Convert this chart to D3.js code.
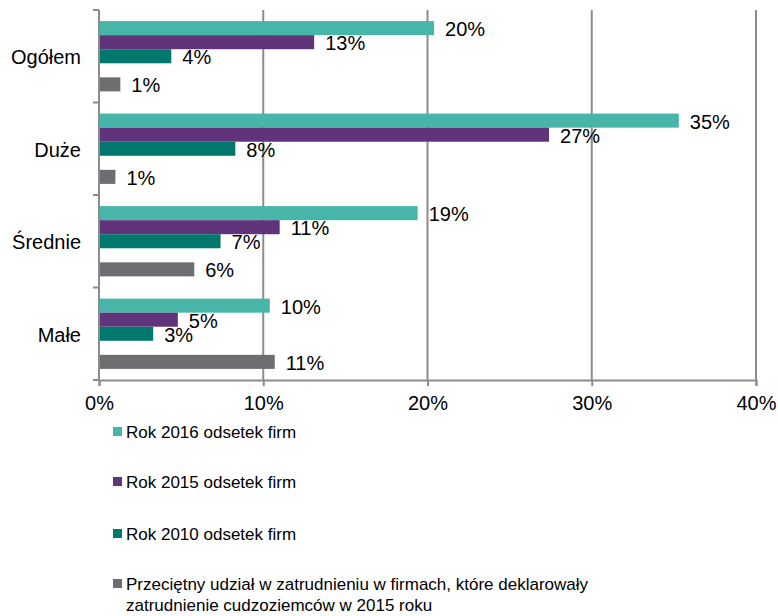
<!DOCTYPE html>
<html>
<head>
<meta charset="utf-8">
<script src="https://cdn.jsdelivr.net/npm/d3@7/dist/d3.min.js"></script>
<style>
  body { margin: 0; background: #fff; }
  svg text { font-family: "Liberation Sans", Arial, sans-serif; fill: #000; }
</style>
</head>
<body>
<svg id="chart" width="778" height="616"></svg>
<script>
// categories and series
const categories = ["Ogółem", "Duże", "Średnie", "Małe"];
const seriesNames = [
  "Rok 2016 odsetek firm",
  "Rok 2015 odsetek firm",
  "Rok 2010 odsetek firm",
  "Przeciętny udział w zatrudnieniu w firmach, które deklarowały zatrudnienie cudzoziemców w 2015 roku"
];
const rok2016 = [0.204, 0.353, 0.194, 0.104];
const rok2015 = [0.131, 0.274, 0.110, 0.048];
const rok2010 = [0.044, 0.083, 0.074, 0.033];
const udzial = [0.013, 0.010, 0.058, 0.107];
const xTicks = [0, 0.1, 0.2, 0.3, 0.4];
const colors = ["#47b5a8", "#60337b", "#00786e", "#6e6d72"];

const series = [rok2016, rok2015, rok2010, udzial];
// gray series sits in the 5th slot, one empty slot between
const slots = ["s0", "s1", "s2", "gap", "s3"];

const svg = d3.select("#chart");

let x = d3.scaleLinear().domain([0, 0.4]).range([99, 756]);
let y = d3.scaleBand().domain(categories).range([10, 380])
  .paddingInner(0.24).paddingOuter(0.12);
let ySlot = d3.scaleBand().domain(slots).range([0, y.bandwidth()]);

const pct = d3.format(".0%");

// gridlines
svg.append("g")
  .selectAll("line")
  .data(xTicks.slice(1))
  .enter()
  .append("line")
  .attr("x1", d => x(d)).attr("x2", d => x(d))
  .attr("y1", 10).attr("y2", 380)
  .attr("stroke", "#8c8c8c")
  .attr("stroke-width", 2);

// bars
const groups = svg.append("g")
  .selectAll("g")
  .data(series)
  .enter()
  .append("g")
  .attr("fill", (d, i) => colors[i]);

groups.each(function (vals, si) {
  const slot = si === 3 ? "s3" : "s" + si;
  d3.select(this).selectAll("rect")
    .data(vals)
    .enter()
    .append("rect")
    .attr("x", x(0))
    .attr("y", (d, i) => y(categories[i]) + ySlot(slot))
    .attr("width", d => x(d) - x(0))
    .attr("height", ySlot.bandwidth());

  d3.select(this).selectAll("text")
    .data(vals)
    .enter()
    .append("text")
    .attr("x", d => x(d) + 11)
    .attr("y", (d, i) => y(categories[i]) + ySlot(slot) + ySlot.bandwidth() / 2 + 1)
    .attr("dy", "0.35em")
    .attr("font-size", 20)
    .style("fill", "#000")
    .text(d => pct(d));
});

// y axis (category axis)
const yAxis = svg.append("g")
  .attr("transform", "translate(99,0)");
yAxis.append("line")
  .attr("x1", 0).attr("x2", 0).attr("y1", 10).attr("y2", 380)
  .attr("stroke", "#8c8c8c").attr("stroke-width", 2);
const yEdges = categories.map(c => y(c) - y.step() * y.paddingInner() / 2);
yEdges[0] = 10;
yEdges.push(380);
yAxis.selectAll("line.tick")
  .data(yEdges)
  .enter()
  .append("line")
  .classed("tick", true)
  .attr("x1", -6).attr("x2", 0)
  .attr("y1", d => d).attr("y2", d => d)
  .attr("stroke", "#8c8c8c").attr("stroke-width", 2);
yAxis.selectAll("text")
  .data(categories)
  .enter()
  .append("text")
  .attr("x", -18)
  .attr("y", d => y(d) + y.bandwidth() / 2 + 1)
  .attr("dy", "0.35em")
  .attr("text-anchor", "end")
  .attr("font-size", 20)
  .text(d => d);

// x axis
const xAxis = svg.append("g")
  .attr("transform", "translate(0,380)")
  .call(d3.axisBottom(x).tickValues(xTicks).tickFormat(pct).tickSize(6).tickPadding(10));
xAxis.select(".domain").attr("stroke", "#8c8c8c").attr("stroke-width", 2);
xAxis.selectAll(".tick line").attr("stroke", "#8c8c8c").attr("stroke-width", 2);
xAxis.selectAll(".tick text")
  .attr("font-size", 20)
  .attr("font-family", "Liberation Sans, Arial, sans-serif")
  .style("fill", "#000");

// legend
const legend = svg.append("g")
  .attr("transform", "translate(113,0)");
const legendY = [432, 482, 534, 584];
const legendLines = [
  [seriesNames[0]],
  [seriesNames[1]],
  [seriesNames[2]],
  ["Przeciętny udział w zatrudnieniu w firmach, które deklarowały", "zatrudnienie cudzoziemców w 2015 roku"]
];
const items = legend.selectAll("g")
  .data(legendLines)
  .enter()
  .append("g")
  .attr("transform", (d, i) => "translate(0," + legendY[i] + ")");
items.append("rect")
  .attr("x", 0).attr("y", -5)
  .attr("width", 9).attr("height", 9)
  .attr("fill", (d, i) => colors[i]);
items.each(function (lines) {
  d3.select(this).selectAll("text")
    .data(lines)
    .enter()
    .append("text")
    .attr("x", 13)
    .attr("y", (d, j) => j * 21)
    .attr("dy", "0.35em")
    .attr("font-size", 17)
    .text(d => d);
});
</script>
</body>
</html>
